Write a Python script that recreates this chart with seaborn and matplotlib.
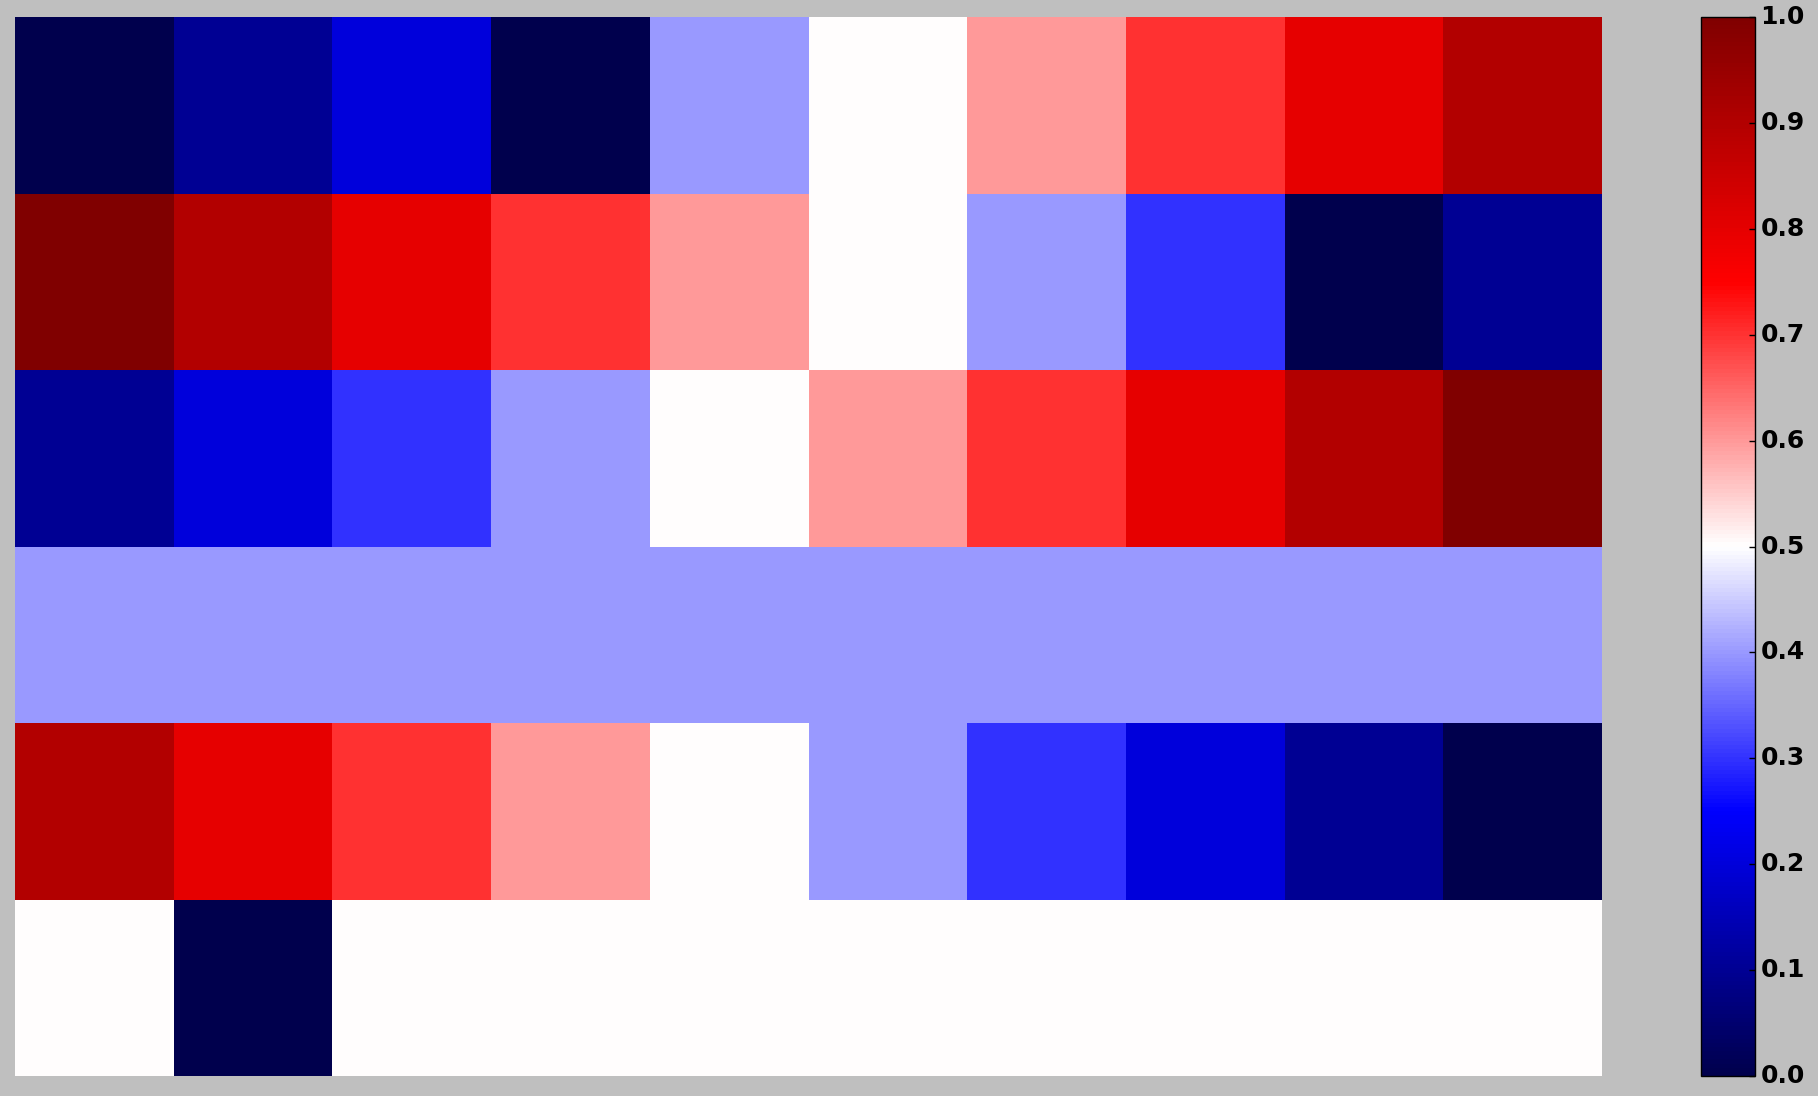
import numpy as np
import pandas as pd
import matplotlib
matplotlib.use('Agg')
import matplotlib.pyplot as plt
import seaborn as sns

plt.style.use('classic')

# values (row by row, top to bottom)
row1 = [0.0, 0.1, 0.2, 0.0, 0.4, 0.5, 0.6, 0.7, 0.8, 0.9]
row2 = [1.0, 0.9, 0.8, 0.7, 0.6, 0.5, 0.4, 0.3, 0.0, 0.1]
row3 = [0.1, 0.2, 0.3, 0.4, 0.5, 0.6, 0.7, 0.8, 0.9, 1.0]
row4 = [0.4, 0.4, 0.4, 0.4, 0.4, 0.4, 0.4, 0.4, 0.4, 0.4]
row5 = [0.9, 0.8, 0.7, 0.6, 0.5, 0.4, 0.3, 0.2, 0.1, 0.0]
row6 = [0.5, 0.0, 0.5, 0.5, 0.5, 0.5, 0.5, 0.5, 0.5, 0.5]
cbar_ticks = [0.0, 0.1, 0.2, 0.3, 0.4, 0.5, 0.6, 0.7, 0.8, 0.9, 1.0]

df = pd.DataFrame([row1, row2, row3, row4, row5, row6])

W, H = 1818, 1096
fig = plt.figure(figsize=(W / 100, H / 100), dpi=100)
fig.patch.set_facecolor('#bfbfbf')
ax = fig.add_axes([15 / W, 1 - 1076 / H, (1602 - 15) / W, (1076 - 17) / H])
cax = fig.add_axes([1701 / W, 1 - 1076 / H, (1755 - 1701) / W, (1076 - 17) / H])

sns.heatmap(df, ax=ax, cbar_ax=cax, cmap='seismic', vmin=0, vmax=1,
            xticklabels=False, yticklabels=False)

ax.set_xticks([])
ax.set_yticks([])

cb = ax.collections[0].colorbar
cb.outline.set_linewidth(1)
cb.outline.set_edgecolor('black')
cb.set_ticks(cbar_ticks)
cb.ax.set_yticklabels(['%.1f' % t for t in cbar_ticks], fontsize=18, fontweight='bold')
cb.ax.tick_params(direction='in', length=4, width=1, right=True, left=False)

fig.savefig('out.png', dpi=100, facecolor=fig.get_facecolor())
